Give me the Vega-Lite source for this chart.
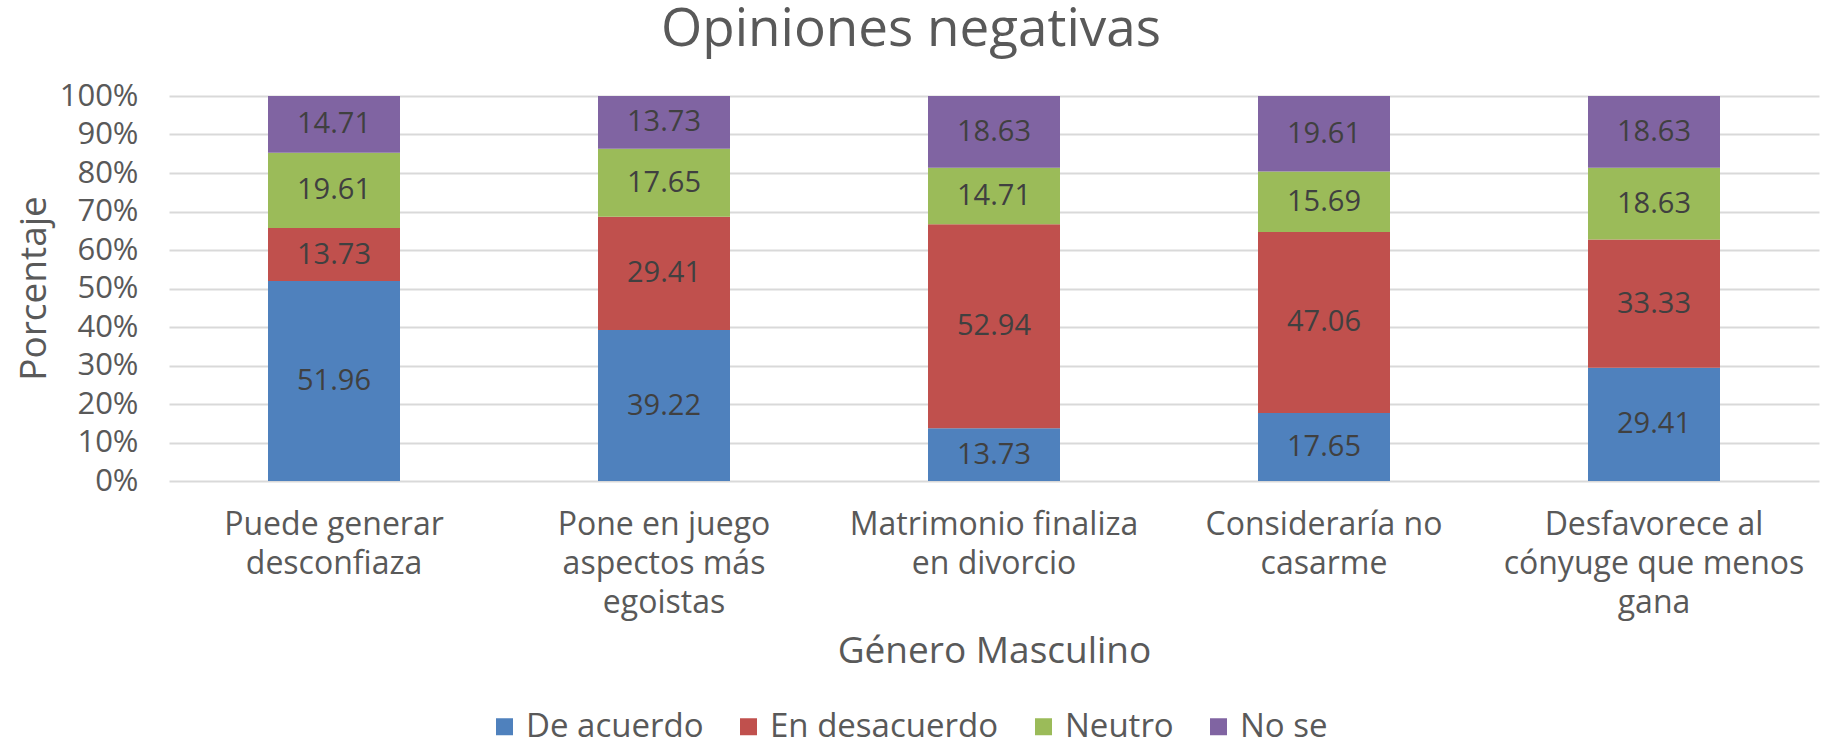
{
  "$schema": "https://vega.github.io/schema/vega-lite/v6.json",
  "width": 1650,
  "height": 385,
  "autosize": {"type": "none"},
  "padding": {"left": 169, "top": 96, "right": 26, "bottom": 264},
  "background": "white",
  "config": {
    "font": "Open Sans",
    "view": {"stroke": null}
  },
  "title": {
    "text": "Opiniones negativas",
    "fontSize": 53,
    "fontWeight": "normal",
    "color": "#595959",
    "anchor": "middle",
    "frame": "group",
    "offset": 23,
    "dx": -83
  },
  "data": {
    "values": [
      {"categoria": "Puede generar desconfiaza", "respuesta": "De acuerdo", "orden": 1, "valor": 51.96},
      {"categoria": "Puede generar desconfiaza", "respuesta": "En desacuerdo", "orden": 2, "valor": 13.73},
      {"categoria": "Puede generar desconfiaza", "respuesta": "Neutro", "orden": 3, "valor": 19.61},
      {"categoria": "Puede generar desconfiaza", "respuesta": "No se", "orden": 4, "valor": 14.71},
      {"categoria": "Pone en juego aspectos más egoistas", "respuesta": "De acuerdo", "orden": 1, "valor": 39.22},
      {"categoria": "Pone en juego aspectos más egoistas", "respuesta": "En desacuerdo", "orden": 2, "valor": 29.41},
      {"categoria": "Pone en juego aspectos más egoistas", "respuesta": "Neutro", "orden": 3, "valor": 17.65},
      {"categoria": "Pone en juego aspectos más egoistas", "respuesta": "No se", "orden": 4, "valor": 13.73},
      {"categoria": "Matrimonio finaliza en divorcio", "respuesta": "De acuerdo", "orden": 1, "valor": 13.73},
      {"categoria": "Matrimonio finaliza en divorcio", "respuesta": "En desacuerdo", "orden": 2, "valor": 52.94},
      {"categoria": "Matrimonio finaliza en divorcio", "respuesta": "Neutro", "orden": 3, "valor": 14.71},
      {"categoria": "Matrimonio finaliza en divorcio", "respuesta": "No se", "orden": 4, "valor": 18.63},
      {"categoria": "Consideraría no casarme", "respuesta": "De acuerdo", "orden": 1, "valor": 17.65},
      {"categoria": "Consideraría no casarme", "respuesta": "En desacuerdo", "orden": 2, "valor": 47.06},
      {"categoria": "Consideraría no casarme", "respuesta": "Neutro", "orden": 3, "valor": 15.69},
      {"categoria": "Consideraría no casarme", "respuesta": "No se", "orden": 4, "valor": 19.61},
      {"categoria": "Desfavorece al cónyuge que menos gana", "respuesta": "De acuerdo", "orden": 1, "valor": 29.41},
      {"categoria": "Desfavorece al cónyuge que menos gana", "respuesta": "En desacuerdo", "orden": 2, "valor": 33.33},
      {"categoria": "Desfavorece al cónyuge que menos gana", "respuesta": "Neutro", "orden": 3, "valor": 18.63},
      {"categoria": "Desfavorece al cónyuge que menos gana", "respuesta": "No se", "orden": 4, "valor": 18.63}
    ]
  },
  "encoding": {
    "x": {
      "field": "categoria",
      "type": "nominal",
      "sort": null,
      "scale": {"paddingInner": 0.6, "paddingOuter": 0.3},
      "axis": {
        "title": "Género Masculino",
        "titleFontSize": 37,
        "titleFontWeight": "normal",
        "titleColor": "#595959",
        "titleBaseline": "alphabetic",
        "titleY": 181,
        "titleX": 825,
        "labelAngle": 0,
        "labelFontSize": 32,
        "labelColor": "#595959",
        "labelBaseline": "top",
        "labelPadding": 28,
        "labelLineHeight": 39,
        "labelLimit": 400,
        "labelExpr": "{'Puede generar desconfiaza': ['Puede generar', 'desconfiaza'], 'Pone en juego aspectos más egoistas': ['Pone en juego', 'aspectos más', 'egoistas'], 'Matrimonio finaliza en divorcio': ['Matrimonio finaliza', 'en divorcio'], 'Consideraría no casarme': ['Consideraría no', 'casarme'], 'Desfavorece al cónyuge que menos gana': ['Desfavorece al', 'cónyuge que menos', 'gana']}[datum.label]",
        "ticks": false,
        "domain": false,
        "grid": false
      }
    }
  },
  "layer": [
    {
      "mark": {"type": "bar"},
      "encoding": {
        "y": {
          "field": "valor",
          "type": "quantitative",
          "stack": "normalize",
          "scale": {"domain": [0, 1], "nice": false},
          "axis": {
            "title": "Porcentaje",
            "titleFontSize": 37,
            "titleFontWeight": "normal",
            "titleColor": "#595959",
            "titleBaseline": "alphabetic",
            "titleAngle": -90,
            "titleX": -124,
            "titleY": 192,
            "values": [0, 0.1, 0.2, 0.3, 0.4, 0.5, 0.6, 0.7, 0.8, 0.9, 1],
            "format": ".0%",
            "labelFontSize": 31,
            "labelColor": "#595959",
            "labelPadding": 31,
            "labelBaseline": "middle",
            "labelOverlap": false,
            "labelFlush": false,
            "ticks": false,
            "domain": false,
            "grid": true,
            "gridColor": "#d9d9d9",
            "gridWidth": 2
          }
        },
        "color": {
          "field": "respuesta",
          "type": "nominal",
          "scale": {
            "domain": ["De acuerdo", "En desacuerdo", "Neutro", "No se"],
            "range": ["#4f81bd", "#c0504d", "#9bbb59", "#8064a2"]
          },
          "legend": {
            "title": null,
            "orient": "none",
            "direction": "horizontal",
            "legendX": 319,
            "legendY": 614,
            "symbolType": "square",
            "symbolSize": 289,
            "symbolStrokeWidth": 0,
            "labelFontSize": 33,
            "labelColor": "#595959",
            "labelOffset": 5,
            "labelLimit": 400,
            "columnPadding": 28,
            "padding": 0
          }
        },
        "order": {"field": "orden", "type": "quantitative"}
      }
    },
    {
      "mark": {"type": "text", "fontSize": 29, "color": "#404040", "baseline": "middle"},
      "encoding": {
        "y": {
          "field": "valor",
          "type": "quantitative",
          "stack": "normalize",
          "bandPosition": 0.5,
          "scale": {"domain": [0, 1], "nice": false},
          "axis": {
            "title": "Porcentaje",
            "titleFontSize": 37,
            "titleFontWeight": "normal",
            "titleColor": "#595959",
            "titleBaseline": "alphabetic",
            "titleAngle": -90,
            "titleX": -124,
            "titleY": 192,
            "values": [0, 0.1, 0.2, 0.3, 0.4, 0.5, 0.6, 0.7, 0.8, 0.9, 1],
            "format": ".0%",
            "labelFontSize": 31,
            "labelColor": "#595959",
            "labelPadding": 31,
            "labelBaseline": "middle",
            "labelOverlap": false,
            "labelFlush": false,
            "ticks": false,
            "domain": false,
            "grid": true,
            "gridColor": "#d9d9d9",
            "gridWidth": 2
          }
        },
        "detail": {"field": "respuesta"},
        "order": {"field": "orden", "type": "quantitative"},
        "text": {"field": "valor", "type": "quantitative", "format": ".2f"}
      }
    }
  ]
}
